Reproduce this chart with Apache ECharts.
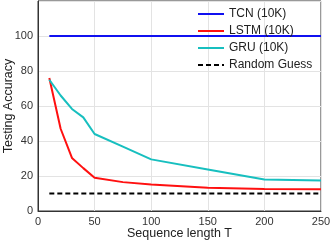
<!DOCTYPE html>
<html>
<head>
<meta charset="utf-8">
<script src="https://cdn.jsdelivr.net/npm/echarts@6/dist/echarts.min.js"></script>
<style>html,body{margin:0;padding:0;background:#fff}#c{width:332px;height:242px}</style>
</head>
<body>
<div id="c"></div>
<script>
var seqLen = [10, 20, 30, 40, 50, 75, 100, 150, 200, 250];
var tcn = [100, 100, 100, 100, 100, 100, 100, 100, 100, 100];
var lstm = [76, 47, 30.3, 24.5, 19, 16.5, 15.2, 13.3, 12.6, 12.5];
var gru = [75, 66, 58.3, 53.5, 44, 36.8, 29.5, 23.7, 18, 17.4];
var randomGuess = [10, 10, 10, 10, 10, 10, 10, 10, 10, 10];
var seriesNames = ['TCN (10K)', 'LSTM (10K)', 'GRU (10K)', 'Random Guess'];
var xTicks = [0, 50, 100, 150, 200, 250];
var yTicks = [0, 20, 40, 60, 80, 100];

function pairs(ys) { return seqLen.map(function (x, i) { return [x, ys[i]]; }); }

var font = 'Liberation Sans, Arial, sans-serif';
var chart = echarts.init(document.getElementById('c'), null, { renderer: 'canvas' });
function mk(name, ys, color, type) {
  return {
    name: name, type: 'line', data: pairs(ys), symbol: 'none', showSymbol: false, animation: false,
    lineStyle: { color: color, width: 2, type: type || 'solid' },
    itemStyle: { color: color }
  };
}
chart.setOption({
  animation: false,
  grid: { left: 38, right: 11, top: 1, bottom: 31, show: true, borderColor: '#333', borderWidth: 1,
    containLabel: false, outerBoundsMode: 'none' },
  legend: {
    orient: 'vertical', left: 192, top: 3, itemWidth: 26, itemHeight: 14, itemGap: 5,
    itemStyle: { opacity: 0 },
    textStyle: { fontFamily: font, fontSize: 12, color: '#222' },
    data: seriesNames
  },
  xAxis: {
    type: 'value', min: 0, max: 250, interval: 50,
    name: 'Sequence length T', nameLocation: 'middle', nameGap: 16, nameMoveOverlap: false,
    nameTextStyle: { fontFamily: font, fontSize: 12.5, color: '#222' },
    axisLine: { show: true, lineStyle: { color: '#333', width: 1 } },
    axisTick: { show: false },
    axisLabel: { fontFamily: font, fontSize: 11, color: '#333', margin: 5,
      formatter: function (v) { return xTicks.indexOf(v) >= 0 ? String(v) : ''; } },
    splitLine: { show: true, lineStyle: { color: '#e3e3e3', width: 1 } }
  },
  yAxis: {
    type: 'value', min: 0, max: 120, interval: 20,
    name: 'Testing Accuracy', nameLocation: 'middle', nameGap: 23, nameMoveOverlap: false,
    nameTextStyle: { fontFamily: font, fontSize: 12.5, color: '#222' },
    axisLine: { show: true, lineStyle: { color: '#333', width: 1 } },
    axisTick: { show: false },
    axisLabel: { fontFamily: font, fontSize: 11, color: '#333', margin: 5,
      formatter: function (v) { return yTicks.indexOf(v) >= 0 ? String(v) : ''; } },
    splitLine: { show: true, lineStyle: { color: '#e3e3e3', width: 1 } }
  },
  series: [
    mk(seriesNames[0], tcn, '#1010f0'),
    mk(seriesNames[1], lstm, '#ff1010'),
    mk(seriesNames[2], gru, '#17bfbf'),
    mk(seriesNames[3], randomGuess, '#000', [5, 3])
  ]
});
</script>
</body>
</html>
